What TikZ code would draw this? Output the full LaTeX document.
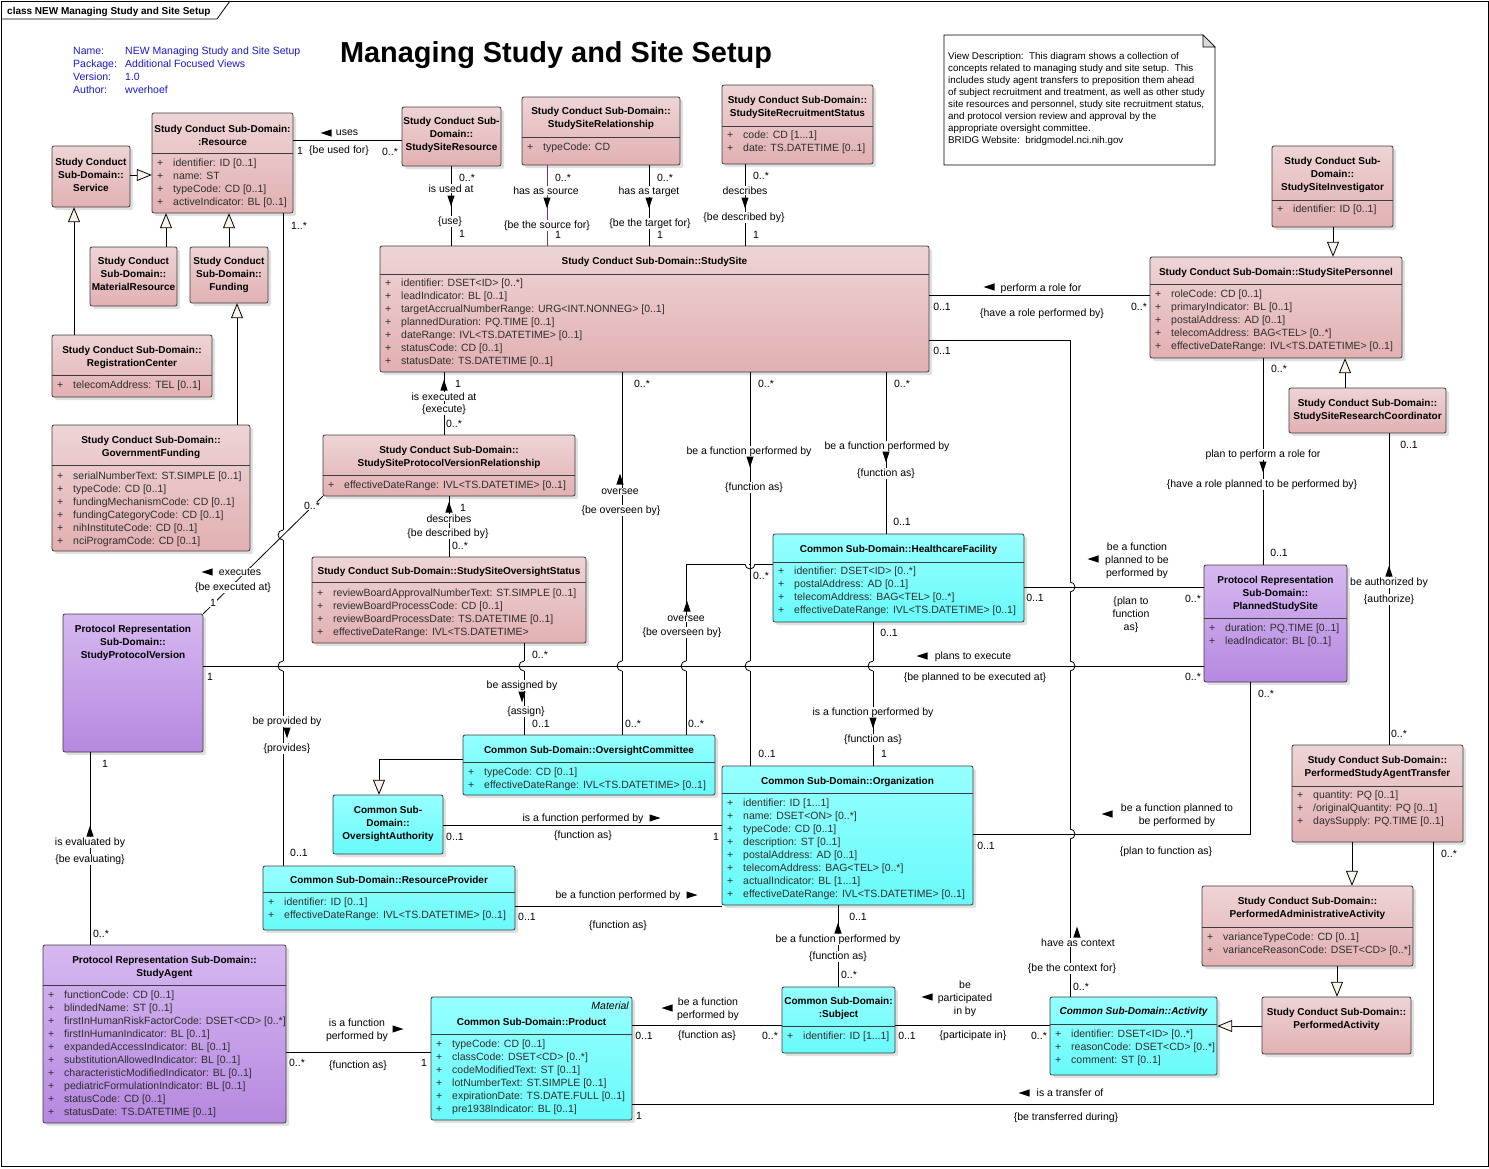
\documentclass[tikz,border=0pt]{standalone}
\usepackage{fontspec}
\setmainfont{Liberation Sans}
\usetikzlibrary{arrows.meta,fit}
\definecolor{pktop}{RGB}{238,212,214}
\definecolor{pkbot}{RGB}{226,176,178}
\definecolor{cytop}{RGB}{150,255,255}
\definecolor{cybot}{RGB}{104,250,250}
\definecolor{putop}{RGB}{214,184,240}
\definecolor{pubot}{RGB}{182,136,224}
\definecolor{cream}{RGB}{252,244,232}
\definecolor{infoblue}{RGB}{25,25,205}
\definecolor{bordc}{RGB}{60,60,60}
\definecolor{srcline}{RGB}{140,40,150}
\newcounter{lbc}
\protected\def\thd{...}
\newcommand\fr{\fontsize{10.5}{13}\selectfont}
\newcommand\fb{\fontsize{10}{13}\selectfont\bfseries}
\tikzset{
 conn/.style={draw=black,line width=0.8pt},
 gen/.style={conn,-{Triangle[length=15pt,width=12pt,fill=cream]}},
 lbl/.style={font=\fr,inner sep=0.7pt,anchor=base,yshift=-3.6pt,fill=white},
 ttl/.style={font=\fb,inner sep=0pt,anchor=base,yshift=-3.6pt},
 atr/.style={font=\fr,inner sep=0pt,anchor=base west,yshift=-3.6pt,text=black!82},
 info/.style={font=\fr,text=infoblue,inner sep=0pt,anchor=base west,yshift=-3.6pt},
 notet/.style={font=\fontsize{9.8}{12}\selectfont,inner sep=0pt,anchor=base west,yshift=-3.4pt},
}
\newcommand\ubox[6]{%
 \fill[black!12,rounded corners=2pt] (#2+3,#3+3) rectangle (#4+3,#5+3);
 \shade[top color=#6top,bottom color=#6bot,draw=bordc,line width=0.8pt,rounded corners=2pt] (#2,#3) rectangle (#4,#5);
 \node[fit={(#2,#3)(#4,#5)},inner sep=0pt] (#1) {};}
\newcommand\udiv[2]{\draw[bordc,line width=0.8pt] (#1.west |- 0,#2) -- (#1.east |- 0,#2);}
\newcommand\uttl[3]{\foreach \t [count=\i from 0] in {#3}{\pgfmathsetmacro\yy{#2+13*\i}\node[ttl] (#1-t\i) at (#1.north |- 0,\yy) {\t};}}
\newcommand\uattr[4]{\foreach \t [count=\i from 0] in {#4}{\pgfmathsetmacro\yy{#3+13*\i}\node[atr] (#1-p\i) at (#2+5,\yy) {+};\node[atr] (#1-a\i) at (#2+21,\yy) {\t};}}
\newcommand\lb[3]{\stepcounter{lbc}\node[lbl] (L\arabic{lbc}) at (#1,#2) {#3};}
\newcommand\mk[3]{\fill[shift={(#1,#2)},rotate=#3] (5.5pt,0pt) -- (-5.5pt,3.6pt) -- (-5.5pt,-3.6pt) -- cycle;}
\newcommand\hopL[2]{\fill[white] (#1-1.3,#2-5) rectangle (#1+1.3,#2+5);\draw[conn] (#1,#2-5) arc[start angle=90,end angle=270,radius=5pt];}
\newcommand\hopR[2]{\fill[white] (#1-1.3,#2-5) rectangle (#1+1.3,#2+5);\draw[conn] (#1,#2-5) arc[start angle=90,end angle=-90,radius=5pt];}
\newcommand\hopD[2]{\fill[white] (#1-5.4,#2-1.3) rectangle (#1-0.8,#2+1.3);\fill[white] (#1+0.8,#2-1.3) rectangle (#1+5.4,#2+1.3);\draw[conn] (#1-5,#2) arc[start angle=180,end angle=360,radius=5pt];}
\begin{document}
\begin{tikzpicture}[x=1pt,y=-1pt]
\useasboundingbox (0,0) rectangle (1489,1168);
\fill[white] (0,0) rectangle (1489,1168);
\draw[line width=0.8pt] (1,1) rectangle (1488,1166);
\draw[line width=0.8pt] (1,19) -- (217,19) -- (230,1);
\node[font=\fb,anchor=base west,inner sep=0pt] (tab) at (7,14) {class NEW Managing Study and Site Setup};
% info
\node[info] (i1) at (73,51) {Name:};
\node[info] (i2) at (73,64) {Package:};
\node[info] (i3) at (73,77) {Version:};
\node[info] (i4) at (73,90) {Author:};
\node[info] (v1) at (125,51) {NEW Managing Study and Site Setup};
\node[info] (v2) at (125,64) {Additional Focused Views};
\node[info] (v3) at (125,77) {1.0};
\node[info] (v4) at (125,90) {wverhoef};
\node[font=\fontsize{28.9}{30}\selectfont\bfseries,anchor=base,inner sep=0pt] (title) at (556,62) {Managing Study and Site Setup};
% note
\draw[fill=white,line width=0.8pt] (944,35) -- (1203,35) -- (1215,47) -- (1215,165) -- (944,165) -- cycle;
\draw[fill=black!15,line width=0.6pt] (1203,35) -- (1203,47) -- (1215,47) -- cycle;
\node[fit={(944,35)(1215,165)},inner sep=0pt] (note) {};
\node[notet] (n1) at (948,56) {View Description:\ \ This diagram shows a collection of};
\node[notet] (n2) at (948,68) {concepts related to managing study and site setup.\ \ This};
\node[notet] (n3) at (948,80) {includes study agent transfers to preposition them ahead};
\node[notet] (n4) at (948,92) {of subject recruitment and treatment, as well as other study};
\node[notet] (n5) at (948,104) {site resources and personnel, study site recruitment status,};
\node[notet] (n6) at (948,116) {and protocol version review and approval by the};
\node[notet] (n7) at (948,128) {appropriate oversight committee.};
\node[notet] (n8) at (948,140) {BRIDG Website:\ \ bridgmodel.nci.nih.gov};
% ===== boxes =====
\ubox{res}{152}{113}{293}{213}{pk}\udiv{res}{153}
\uttl{res}{129}{Study Conduct Sub-Domain:,:Resource}
\uattr{res}{152}{163}{identifier: ID [0..1],name: ST,typeCode: CD [0..1],activeIndicator: BL [0..1]}
\ubox{svc}{52}{146}{130}{207}{pk}
\uttl{svc}{162}{Study Conduct,Sub-Domain::,Service}
\ubox{ssr}{402}{107}{501}{166}{pk}
\uttl{ssr}{121}{Study Conduct Sub-,Domain::,StudySiteResource}
\ubox{ssrel}{522}{97}{680}{165}{pk}\udiv{ssrel}{137}
\uttl{ssrel}{111}{Study Conduct Sub-Domain::,StudySiteRelationship}
\uattr{ssrel}{522}{147}{typeCode: CD}
\ubox{ssrs}{722}{85}{873}{164}{pk}\udiv{ssrs}{126}
\uttl{ssrs}{100}{Study Conduct Sub-Domain::,StudySiteRecruitmentStatus}
\uattr{ssrs}{722}{135}{code: CD [1\thd1],date: TS.DATETIME [0..1]}
\ubox{ssi}{1272}{146}{1393}{227}{pk}\udiv{ssi}{200}
\uttl{ssi}{161}{Study Conduct Sub-,Domain::,StudySiteInvestigator}
\uattr{ssi}{1272}{209}{identifier: ID [0..1]}
\ubox{ssp}{1150}{257}{1402}{358}{pk}\udiv{ssp}{284}
\uttl{ssp}{272}{Study Conduct Sub-Domain::StudySitePersonnel}
\uattr{ssp}{1150}{294}{roleCode: CD [0..1],primaryIndicator: BL [0..1],postalAddress: AD [0..1],telecomAddress: BAG<TEL> [0..*],effectiveDateRange: IVL<TS.DATETIME> [0..1]}
\ubox{ss}{380}{246}{929}{372}{pk}\udiv{ss}{274}
\uttl{ss}{261}{Study Conduct Sub-Domain::StudySite}
\uattr{ss}{380}{283}{identifier: DSET<ID> [0..*],leadIndicator: BL [0..1],targetAccrualNumberRange: URG<INT.NONNEG> [0..1],plannedDuration: PQ.TIME [0..1],dateRange: IVL<TS.DATETIME> [0..1],statusCode: CD [0..1],statusDate: TS.DATETIME [0..1]}
\ubox{mr}{90}{247}{177}{306}{pk}
\uttl{mr}{261}{Study Conduct,Sub-Domain::,MaterialResource}
\ubox{fund}{190}{247}{268}{303}{pk}
\uttl{fund}{261}{Study Conduct,Sub-Domain::,Funding}
\ubox{rc}{52}{335}{212}{397}{pk}\udiv{rc}{375}
\uttl{rc}{350}{Study Conduct Sub-Domain::,RegistrationCenter}
\uattr{rc}{52}{385}{telecomAddress: TEL [0..1]}
\ubox{gf}{52}{425}{250}{551}{pk}\udiv{gf}{465}
\uttl{gf}{440}{Study Conduct Sub-Domain::,GovernmentFunding}
\uattr{gf}{52}{476}{serialNumberText: ST.SIMPLE [0..1],typeCode: CD [0..1],fundingMechanismCode: CD [0..1],fundingCategoryCode: CD [0..1],nihInstituteCode: CD [0..1],nciProgramCode: CD [0..1]}
\ubox{sspvr}{323}{435}{575}{496}{pk}\udiv{sspvr}{475}
\uttl{sspvr}{450}{Study Conduct Sub-Domain::,StudySiteProtocolVersionRelationship}
\uattr{sspvr}{323}{485}{effectiveDateRange: IVL<TS.DATETIME> [0..1]}
\ubox{ssos}{312}{557}{586}{643}{pk}\udiv{ssos}{582}
\uttl{ssos}{571}{Study Conduct Sub-Domain::StudySiteOversightStatus}
\uattr{ssos}{312}{593}{reviewBoardApprovalNumberText: ST.SIMPLE [0..1],reviewBoardProcessCode: CD [0..1],reviewBoardProcessDate: TS.DATETIME [0..1],effectiveDateRange: IVL<TS.DATETIME>}
\ubox{spv}{63}{614}{203}{752}{pu}
\uttl{spv}{629}{Protocol Representation,Sub-Domain::,StudyProtocolVersion}
\ubox{hf}{773}{534}{1024}{622}{cy}\udiv{hf}{562}
\uttl{hf}{549}{Common Sub-Domain::HealthcareFacility}
\uattr{hf}{773}{571}{identifier: DSET<ID> [0..*],postalAddress: AD [0..1],telecomAddress: BAG<TEL> [0..*],effectiveDateRange: IVL<TS.DATETIME> [0..1]}
\ubox{pss}{1204}{565}{1347}{682}{pu}\udiv{pss}{618}
\uttl{pss}{580}{Protocol Representation,Sub-Domain::,PlannedStudySite}
\uattr{pss}{1204}{628}{duration: PQ.TIME [0..1],leadIndicator: BL [0..1]}
\ubox{ssrc}{1289}{388}{1446}{433}{pk}
\uttl{ssrc}{403}{Study Conduct Sub-Domain::,StudySiteResearchCoordinator}
\ubox{oc}{463}{735}{715}{795}{cy}\udiv{oc}{762}
\uttl{oc}{750}{Common Sub-Domain::OversightCommittee}
\uattr{oc}{463}{772}{typeCode: CD [0..1],effectiveDateRange: IVL<TS.DATETIME> [0..1]}
\ubox{oa}{333}{795}{443}{854}{cy}
\uttl{oa}{810}{Common Sub-,Domain::,OversightAuthority}
\ubox{org}{722}{766}{973}{905}{cy}\udiv{org}{793}
\uttl{org}{781}{Common Sub-Domain::Organization}
\uattr{org}{722}{803}{identifier: ID [1\thd1],name: DSET<ON> [0..*],typeCode: CD [0..1],description: ST [0..1],postalAddress: AD [0..1],telecomAddress: BAG<TEL> [0..*],actualIndicator: BL [1\thd1],effectiveDateRange: IVL<TS.DATETIME> [0..1]}
\ubox{rp}{263}{866}{515}{930}{cy}\udiv{rp}{892}
\uttl{rp}{880}{Common Sub-Domain::ResourceProvider}
\uattr{rp}{263}{902}{identifier: ID [0..1],effectiveDateRange: IVL<TS.DATETIME> [0..1]}
\ubox{psat}{1292}{745}{1463}{842}{pk}\udiv{psat}{786}
\uttl{psat}{760}{Study Conduct Sub-Domain::,PerformedStudyAgentTransfer}
\uattr{psat}{1292}{795}{quantity: PQ [0..1],/originalQuantity: PQ [0..1],daysSupply: PQ.TIME [0..1]}
\ubox{paa}{1202}{886}{1413}{966}{pk}\udiv{paa}{927}
\uttl{paa}{901}{Study Conduct Sub-Domain::,PerformedAdministrativeActivity}
\uattr{paa}{1202}{937}{varianceTypeCode: CD [0..1],varianceReasonCode: DSET<CD> [0..*]}
\ubox{pa}{1262}{997}{1411}{1054}{pk}
\uttl{pa}{1012}{Study Conduct Sub-Domain::,PerformedActivity}
\ubox{act}{1050}{997}{1217}{1075}{cy}\udiv{act}{1024}
\uttl{act}{1011}{\itshape Common Sub-Domain::Activity}
\uattr{act}{1050}{1034}{identifier: DSET<ID> [0..*],reasonCode: DSET<CD> [0..*],comment: ST [0..1]}
\ubox{subj}{782}{987}{895}{1053}{cy}\udiv{subj}{1026}
\uttl{subj}{1001}{Common Sub-Domain:,:Subject}
\uattr{subj}{782}{1036}{identifier: ID [1\thd1]}
\ubox{prod}{431}{997}{632}{1120}{cy}\udiv{prod}{1034}
\node[font=\fr\itshape,anchor=base east,inner sep=0pt,yshift=-3.6pt] (prod-st) at (629,1006) {Material};
\uttl{prod}{1022}{Common Sub-Domain::Product}
\uattr{prod}{431}{1044}{typeCode: CD [0..1],classCode: DSET<CD> [0..*],codeModifiedText: ST [0..1],lotNumberText: ST.SIMPLE [0..1],expirationDate: TS.DATE.FULL [0..1],pre1938Indicator: BL [0..1]}
\ubox{sa}{43}{945}{286}{1123}{pu}\udiv{sa}{985}
\uttl{sa}{960}{Protocol Representation Sub-Domain::,StudyAgent}
\uattr{sa}{43}{995}{functionCode: CD [0..1],blindedName: ST [0..1],firstInHumanRiskFactorCode: DSET<CD> [0..*],firstInHumanIndicator: BL [0..1],expandedAccessIndicator: BL [0..1],substitutionAllowedIndicator: BL [0..1],characteristicModifiedIndicator: BL [0..1],pediatricFormulationIndicator: BL [0..1],statusCode: CD [0..1],statusDate: TS.DATETIME [0..1]}
% ===== generalizations =====
\draw[gen] (svc.east |- 0,175) -- (res.west |- 0,175);
\draw[gen] (mr.north -| 166,0) -- (res.south -| 166,0);
\draw[gen] (fund.north -| 229,0) -- (res.south -| 229,0);
\draw[gen] (rc.north -| 74,0) -- (svc.south -| 74,0);
\draw[gen] (gf.north -| 237,0) -- (fund.south -| 237,0);
\draw[gen] (ssi.south -| 1333,0) -- (ssp.north -| 1333,0);
\draw[gen] (ssrc.north -| 1345,0) -- (ssp.south -| 1345,0);
\draw[gen] (oc.west |- 0,759) -| (oa.north -| 379,0);
\draw[gen] (pa.west |- 0,1026) -- (act.east |- 0,1026);
\draw[gen] (paa.south -| 1337,0) -- (pa.north -| 1337,0);
\draw[gen] (psat.south -| 1352,0) -- (paa.north -| 1352,0);
% ===== associations =====
\draw[conn] (ssr.west |- 0,140) -- (res.east |- 0,140);
\draw[conn] (ssr.south -| 451,0) -- (ss.north -| 451,0);
\draw[conn,draw=srcline] (ssrel.south -| 547,0) -- (ss.north -| 547,0);
\draw[conn] (ssrel.south -| 649,0) -- (ss.north -| 649,0);
\draw[conn] (ssrs.south -| 745,0) -- (ss.north -| 745,0);
\draw[conn] (ss.east |- 0,295) -- (ssp.west |- 0,295);
\draw[conn] (ss.east |- 0,340) -| (act.north -| 1070,0);
\draw[conn] (ssp.south -| 1263,0) -- (pss.north -| 1263,0);
\draw[conn] (ssrc.south -| 1389,0) -- (psat.north -| 1389,0);
\draw[conn] (ss.south -| 444,0) -- (sspvr.north -| 444,0);
\draw[conn] (sspvr.south -| 449,0) -- (ssos.north -| 449,0);
\draw[conn] (res.south -| 283,0) -- (rp.north -| 283,0);
\draw[conn] (ss.south -| 622,0) -- (oc.north -| 622,0);
\draw[conn] (ss.south -| 750,0) -- (org.north -| 750,0);
\coordinate (hfoc) at (686,564);
\draw[conn] (hf.west |- hfoc) -- (hfoc) -- (oc.north -| hfoc);
\draw[conn] (ss.south -| 886,0) -- (hf.north -| 886,0);
\draw[conn] (hf.south -| 873,0) -- (org.north -| 873,0);
\draw[conn] (ssos.south -| 524,0) -- (oc.north -| 524,0);
\draw[conn] (oa.east |- 0,825) -- (org.west |- 0,825);
\draw[conn] (rp.east |- 0,906) -- (org.west |- 0,906);
\draw[conn] (org.south -| 838,0) -- (subj.north -| 838,0);
\draw[conn] (prod.east |- 0,1025) -- (subj.west |- 0,1025);
\draw[conn] (subj.east |- 0,1025) -- (act.west |- 0,1025);
\draw[conn] (psat.south -| 1433,0) |- (prod.east |- 0,1104);
\draw[conn] (sa.east |- 0,1052) -- (prod.west |- 0,1052);
\draw[conn] (spv.south -| 90,0) -- (sa.north -| 90,0);
% hops
\hopL{283}{535}\hopL{283}{666}\hopL{524}{666}\hopL{622}{666}\hopL{686}{666}\hopL{750}{666}\hopL{873}{666}
\hopR{1070}{666}\hopR{1070}{587}\hopR{1070}{834}\hopD{750}{564}
% crossing lines
\draw[conn] (sspvr.south west) -- (spv.north east);
\draw[conn] (spv.east |- 0,666) -- (pss.west |- 0,666);
\draw[conn] (hf.east |- 0,587) -- (pss.west |- 0,587);
\draw[conn] (pss.south -| 1250,0) |- (org.east |- 0,834);
% ===== labels =====
\lb{347}{132}{uses}\lb{300}{151}{1}\lb{339}{150}{\{be used for\}}\lb{390}{152}{0..*}
\lb{467}{178}{0..*}\lb{451}{189}{is used at}\lb{450}{221}{\{use\}}\lb{462}{234}{1}
\lb{563}{178}{0..*}\lb{546}{191}{has as source}\lb{547}{225}{\{be the source for\}}\lb{558}{235}{1}
\lb{665}{178}{0..*}\lb{649}{191}{has as target}\lb{650}{223}{\{be the target for\}}\lb{660}{235}{1}
\lb{761}{176}{0..*}\lb{745}{191}{describes}\lb{744}{217}{\{be described by\}}\lb{756}{235}{1}
\lb{1041}{288}{perform a role for}\lb{1042}{313}{\{have a role performed by\}}\lb{942}{307}{0..1}\lb{1139}{307}{0..*}
\lb{942}{351}{0..1}\lb{1078}{943}{have as context}\lb{1072}{968}{\{be the context for\}}\lb{1081}{987}{0..*}
\lb{1279}{369}{0..*}\lb{1263}{454}{plan to perform a role for}\lb{1262}{484}{\{have a role planned to be performed by\}}\lb{1279}{553}{0..1}
\lb{1409}{445}{0..1}\lb{1389}{582}{be authorized by}\lb{1389}{599}{\{authorize\}}\lb{1399}{734}{0..*}
\lb{458}{384}{1}\lb{444}{397}{is executed at}\lb{444}{409}{\{execute\}}\lb{454}{424}{0..*}
\lb{463}{508}{1}\lb{449}{519}{describes}\lb{448}{533}{\{be described by\}}\lb{460}{546}{0..*}
\lb{312}{506}{0..*}\lb{240}{572}{executes}\lb{233}{587}{\{be executed at\}}\lb{213}{603}{1}
\lb{299}{226}{1..*}\lb{287}{721}{be provided by}\lb{287}{748}{\{provides\}}\lb{299}{853}{0..1}
\lb{210}{677}{1}\lb{973}{656}{plans to execute}\lb{975}{677}{\{be planned to be executed at\}}\lb{1193}{677}{0..*}
\lb{642}{384}{0..*}\lb{620}{491}{oversee}\lb{621}{510}{\{be overseen by\}}\lb{633}{724}{0..*}
\lb{766}{384}{0..*}\lb{749}{451}{be a function performed by}\lb{754}{487}{\{function as\}}\lb{767}{754}{0..1}
\lb{902}{384}{0..*}\lb{887}{446}{be a function performed by}\lb{886}{473}{\{function as\}}\lb{902}{522}{0..1}
\lb{761}{576}{0..*}\lb{686}{618}{oversee}\lb{682}{632}{\{be overseen by\}}\lb{696}{724}{0..*}
\lb{1035}{598}{0..1}\lb{1137}{547}{be a function}\lb{1137}{560}{planned to be}\lb{1137}{573}{performed by}
\lb{1131}{601}{\{plan to}\lb{1131}{614}{function}\lb{1131}{627}{as\}}\lb{1193}{599}{0..*}
\lb{889}{633}{0..1}\lb{873}{712}{is a function performed by}\lb{873}{739}{\{function as\}}\lb{884}{754}{1}
\lb{540}{655}{0..*}\lb{522}{685}{be assigned by}\lb{526}{711}{\{assign\}}\lb{541}{724}{0..1}
\lb{583}{818}{is a function performed by}\lb{583}{835}{\{function as\}}\lb{455}{837}{0..1}\lb{716}{837}{1}
\lb{618}{895}{be a function performed by}\lb{618}{925}{\{function as\}}\lb{527}{917}{0..1}
\lb{858}{917}{0..1}\lb{838}{939}{be a function performed by}\lb{838}{956}{\{function as\}}\lb{849}{975}{0..*}
\lb{1266}{694}{0..*}\lb{1177}{808}{be a function planned to}\lb{1177}{821}{be performed by}\lb{1166}{851}{\{plan to function as\}}\lb{986}{846}{0..1}
\lb{708}{1002}{be a function}\lb{708}{1015}{performed by}\lb{707}{1035}{\{function as\}}\lb{644}{1036}{0..1}\lb{770}{1036}{0..*}
\lb{907}{1036}{0..1}\lb{965}{985}{be}\lb{965}{998}{participated}\lb{965}{1011}{in by}\lb{973}{1035}{\{participate in\}}\lb{1039}{1036}{0..*}
\lb{1449}{854}{0..*}\lb{1070}{1093}{is a transfer of}\lb{1066}{1117}{\{be transferred during\}}\lb{639}{1116}{1}
\lb{357}{1023}{is a function}\lb{357}{1036}{performed by}\lb{358}{1065}{\{function as\}}\lb{297}{1063}{0..*}\lb{424}{1063}{1}
\lb{105}{764}{1}\lb{90}{842}{is evaluated by}\lb{90}{859}{\{be evaluating\}}\lb{101}{934}{0..*}
% ===== direction markers =====
\mk{326}{133}{180}\mk{451}{201}{-90}\mk{547}{203}{-90}\mk{649}{203}{-90}\mk{745}{203}{-90}
\mk{989}{287}{180}\mk{1077}{932}{90}\mk{1263}{467}{-90}\mk{1389}{571}{90}
\mk{444}{385}{90}\mk{449}{507}{90}\mk{207}{572}{180}\mk{287}{733}{-90}\mk{922}{656}{180}
\mk{620}{479}{90}\mk{750}{462}{-90}\mk{886}{457}{-90}\mk{687}{606}{90}\mk{1093}{559}{180}
\mk{873}{723}{-90}\mk{522}{697}{-90}\mk{655}{818}{0}\mk{692}{895}{0}\mk{838}{928}{90}
\mk{1107}{814}{180}\mk{667}{1008}{180}\mk{927}{997}{180}\mk{1024}{1093}{180}\mk{398}{1029}{0}\mk{90}{831}{90}
\end{tikzpicture}
\end{document}
